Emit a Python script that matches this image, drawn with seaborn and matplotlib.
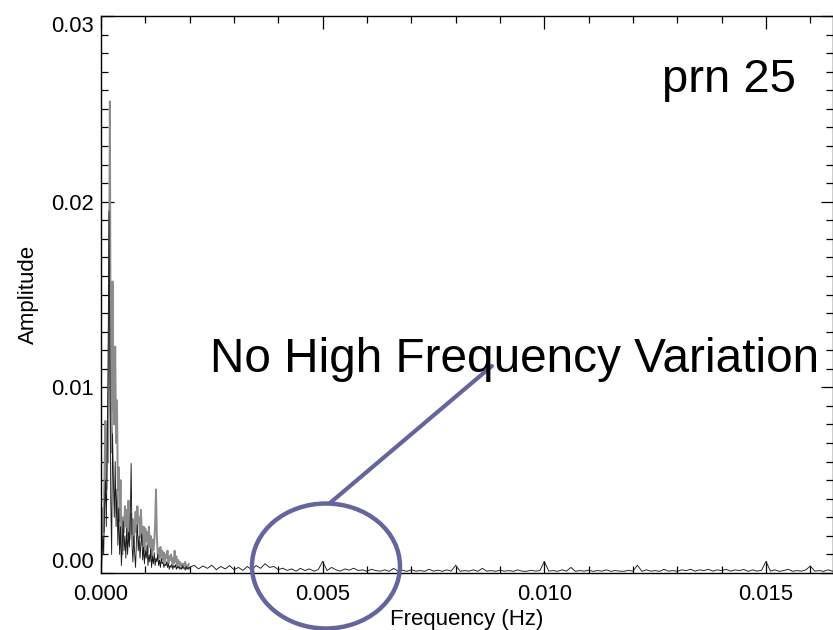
import numpy as np
import pandas as pd
import matplotlib
matplotlib.use("Agg")
import matplotlib.pyplot as plt
from matplotlib.patches import Ellipse
import seaborn as sns

# ---------------- data (amplitudes in units of 1e-3) ----------------
low_step = 2e-5        # Hz between bins of the low-frequency part
gray_low = [0.2, 1.2, 3.5, 2.2, 5.5, 8.2, 4.5, 7.8, 6.0, 14.0,
            25.4, 9.0, 6.5, 15.7, 9.5, 8.0, 12.2, 7.0, 9.3, 4.5,
            5.7, 2.8, 5.0, 2.0, 1.0, 3.0, 2.2, 3.6, 2.5, 3.4,
            2.0, 3.9, 1.8, 2.6, 3.2, 2.1, 2.9, 1.6, 2.4, 3.3,
            2.2, 3.6, 2.7, 3.0, 1.9, 3.4, 2.3, 1.5, 2.5, 1.2,
            2.4, 1.7, 2.2, 1.1, 2.5, 1.4, 2.0, 0.9, 1.8, 1.2,
            1.6, 2.6, 4.5, 2.0, 1.0, 1.3, 0.8, 1.4, 0.9, 1.2,
            0.7, 1.1, 0.6, 1.0, 0.8, 1.2, 0.5, 0.9, 0.7, 1.0,
            0.6, 0.8, 0.5, 1.2, 0.6, 0.9, 0.4, 0.7, 0.5, 0.6,
            0.4, 0.5, 0.3, 0.5, 0.4, 0.6, 0.3, 0.4, 0.3, 0.5]
black_low = [0.1, 0.8, 2.0, 1.0, 3.5, 5.0, 2.5, 6.5, 11.0, 19.5,
             12.0, 4.0, 1.0, 7.5, 5.0, 3.0, 6.0, 2.5, 4.5, 1.5,
             3.5, 1.0, 2.5, 0.4, 1.5, 2.8, 1.2, 2.0, 0.8, 2.4,
             1.0, 2.2, 1.4, 3.0, 5.9, 1.5, 0.6, 2.0, 1.0, 0.3,
             1.8, 2.6, 1.2, 2.0, 0.8, 1.6, 2.1, 0.7, 1.4, 0.5,
             1.2, 0.8, 1.5, 0.4, 1.0, 0.6, 1.3, 0.3, 0.9, 0.5,
             1.1, 0.4, 0.8, 0.6, 1.0, 0.4, 0.7, 0.3, 0.8, 0.5,
             0.6, 0.3, 0.5, 0.4, 0.6, 0.3, 0.5, 0.2, 0.4, 0.3,
             0.5, 0.2, 0.4, 0.3, 0.45, 0.2, 0.35, 0.25, 0.4, 0.2,
             0.3, 0.2, 0.4, 0.25, 0.3, 0.15, 0.35, 0.2, 0.3, 0.2]
tail_start = 0.0020
tail_step = 1e-4
tail = [0.3, 0.42, 0.22, 0.38, 0.25, 0.42, 0.18, 0.35, 0.22, 0.4,
        0.18, 0.3, 0.14, 0.35, 0.18, 0.4, 0.25, 0.5, 0.3, 0.35,
        0.18, 0.26, 0.14, 0.22, 0.1, 0.25, 0.13, 0.22, 0.1, 0.18,
        0.62, 0.13, 0.3, 0.17, 0.1, 0.22, 0.15, 0.26, 0.13, 0.17,
        0.09, 0.2, 0.13, 0.1, 0.17, 0.09, 0.25, 0.1, 0.15, 0.09,
        0.17, 0.1, 0.13, 0.09, 0.2, 0.1, 0.15, 0.09, 0.17, 0.1,
        0.42, 0.09, 0.13, 0.1, 0.17, 0.09, 0.25, 0.1, 0.13, 0.09,
        0.15, 0.1, 0.13, 0.09, 0.17, 0.1, 0.09, 0.15, 0.1, 0.13,
        0.62, 0.1, 0.13, 0.09, 0.17, 0.1, 0.3, 0.09, 0.13, 0.1,
        0.15, 0.09, 0.13, 0.1, 0.17, 0.09, 0.13, 0.1, 0.09, 0.15,
        0.1, 0.42, 0.09, 0.17, 0.1, 0.13, 0.09, 0.2, 0.1, 0.13,
        0.09, 0.17, 0.13, 0.2, 0.1, 0.17, 0.13, 0.2, 0.1, 0.17,
        0.13, 0.2, 0.1, 0.17, 0.13, 0.19, 0.09, 0.17, 0.1, 0.15,
        0.62, 0.1, 0.17, 0.09, 0.13, 0.2, 0.09, 0.13, 0.1, 0.17,
        0.38, 0.1, 0.13, 0.09, 0.17, 0.1, 0.13]

x_ticks = [0.000, 0.005, 0.010, 0.015]
x_ticklabels = ["0.000", "0.005", "0.010", "0.015"]
y_ticks = [0.00, 0.01, 0.02, 0.03]
y_ticklabels = ["0.00", "0.01", "0.02", "0.03"]

# ---------------- build frames ----------------
gray_df = pd.DataFrame({"freq": np.arange(len(gray_low)) * low_step,
                        "amp": np.array(gray_low) * 1e-3})
black_df = pd.DataFrame({
    "freq": np.concatenate([np.arange(len(black_low)) * low_step,
                            tail_start + np.arange(len(tail)) * tail_step]),
    "amp": np.concatenate([black_low, tail]) * 1e-3})

# ---------------- style ----------------
sns.set_style("white")
plt.rcParams["font.family"] = ["Liberation Sans", "DejaVu Sans"]
plt.rcParams["text.color"] = "black"
plt.rcParams["axes.labelcolor"] = "black"
plt.rcParams["xtick.color"] = "black"
plt.rcParams["ytick.color"] = "black"

W, H = 833, 630
fig = plt.figure(figsize=(W / 100, H / 100), dpi=100)
ax = fig.add_axes([101 / W, (H - 573) / H, (832.5 - 101) / W, (573 - 16) / H])

sns.lineplot(data=gray_df, x="freq", y="amp", ax=ax, color="#8c8c8c",
             linewidth=1.4, estimator=None, sort=False)
sns.lineplot(data=black_df, x="freq", y="amp", ax=ax, color="#1a1a1a",
             linewidth=0.65, estimator=None, sort=False)

ax.set_xlim(0, 0.0165)
ax.set_ylim(0, 0.03)
ax.set_xticks(x_ticks)
ax.set_xticklabels(x_ticklabels)
ax.set_yticks(y_ticks)
ax.set_yticklabels(y_ticklabels)
ax.set_xticks(np.arange(0, 0.0166, 0.001), minor=True)
ax.set_yticks(np.arange(0, 0.0301, 0.001), minor=True)
ax.tick_params(which="both", direction="in", top=True, right=True,
               bottom=True, left=True, color="black", width=0.9)
ax.tick_params(which="major", length=9, labelsize=15.8)
ax.tick_params(which="minor", length=5)
ax.tick_params(axis="x", which="major", pad=8)
ax.tick_params(axis="y", which="major", pad=5)
for lab in ax.get_yticklabels():
    t = lab.get_text()
    if t == "0.03":
        lab.set_va("top")
    elif t == "0.00":
        lab.set_va("bottom")
for s in ax.spines.values():
    s.set_color("black")
    s.set_linewidth(1.0)

ax.set_xlabel("Frequency (Hz)", fontsize=16, labelpad=3)
ax.set_ylabel("Amplitude", fontsize=16, labelpad=9)

# ---------------- annotations ----------------
fig.text(662 / W, 1 - 92 / H, "prn 25", fontsize=34, ha="left", va="baseline")
fig.text(210 / W, 1 - 372 / H, "No High Frequency Variation", fontsize=34.4,
         ha="left", va="baseline")

ring = "#65659e"
ax.add_patch(Ellipse((0.005074, 0.000377), 0.003338, 0.00673, fill=False,
                     edgecolor=ring, linewidth=3.2, clip_on=False, zorder=5))
ax.plot([0.005165, 0.008818], [0.00377, 0.01115], color=ring, linewidth=3.0,
        clip_on=False, zorder=5)

fig.savefig("out.png", dpi=100)
